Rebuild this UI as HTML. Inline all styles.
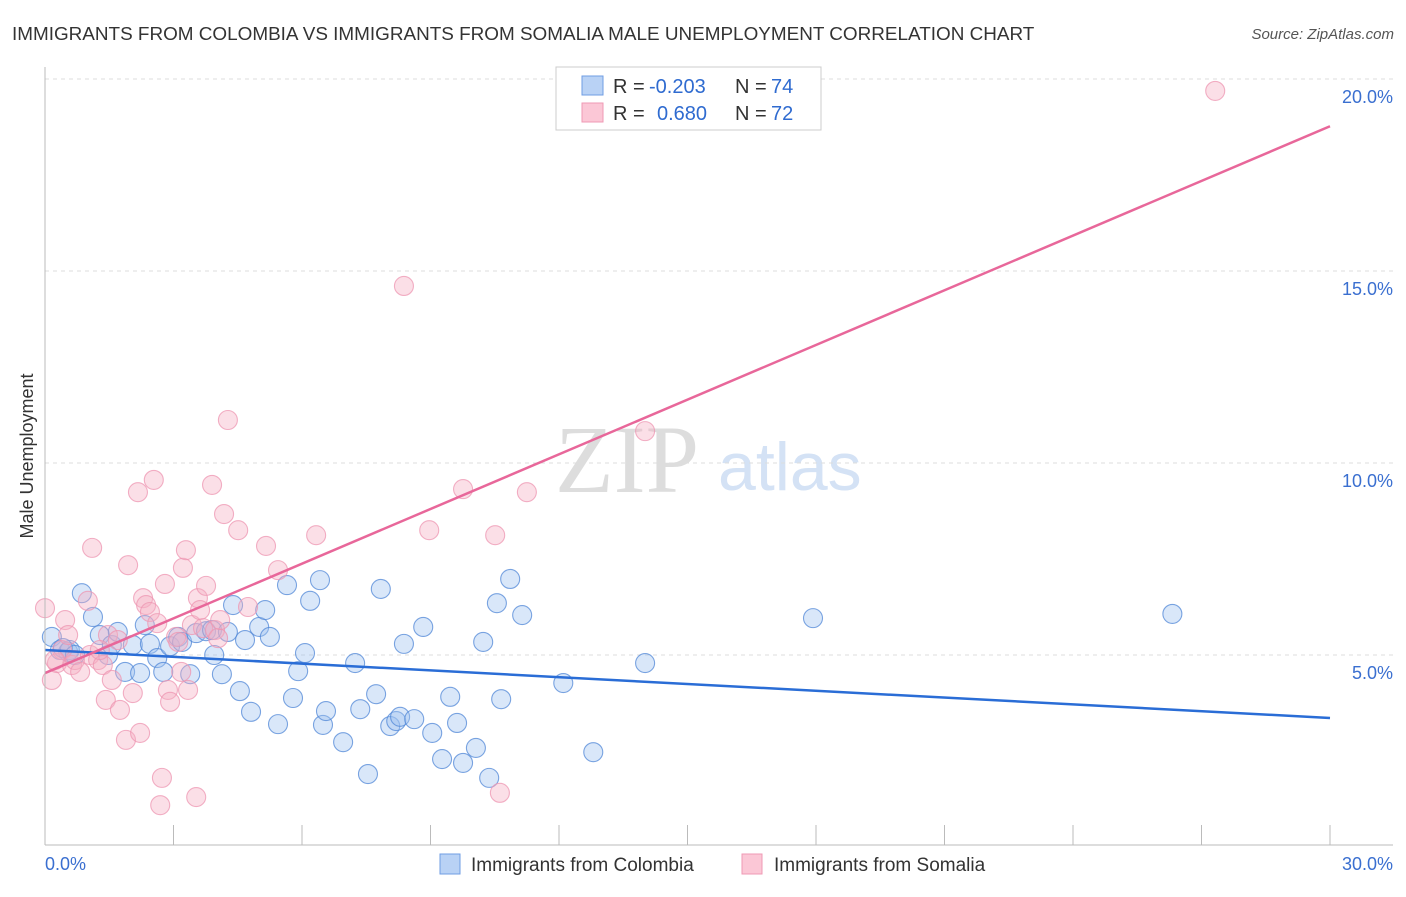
<!DOCTYPE html>
<html><head><meta charset="utf-8"><style>
body{margin:0;background:#fff;font-family:"Liberation Sans",sans-serif;}
</style></head><body>
<svg id="c" width="1406" height="892" xmlns="http://www.w3.org/2000/svg">
<text x="12" y="40" font-size="18.9" fill="#333">IMMIGRANTS FROM COLOMBIA VS IMMIGRANTS FROM SOMALIA MALE UNEMPLOYMENT CORRELATION CHART</text>
<text x="1394" y="39" font-size="15" fill="#555" text-anchor="end" font-style="italic">Source: ZipAtlas.com</text>
<text x="555" y="492" font-size="96" fill="#ddd" font-family="Liberation Serif,serif">ZIP</text>
<text x="718" y="490" font-size="68" fill="#d4e2f5">atlas</text>
<text transform="translate(33,456) rotate(-90)" font-size="18" fill="#333" text-anchor="middle">Male Unemployment</text>
<g id="grid"></g><g id="pts"></g><g id="lines"></g>
<line x1="45" y1="67" x2="45" y2="845" stroke="#bbb"/>
<line x1="45" y1="845" x2="1393" y2="845" stroke="#bbb"/>
<text x="45" y="870" font-size="18" fill="#3a6fd0">0.0%</text>
<text x="1393" y="870" font-size="18" fill="#3a6fd0" text-anchor="end">30.0%</text>
<g font-size="20">
<rect x="556" y="67" width="265" height="63" fill="#fff" stroke="#ccc"/>
<rect x="582" y="76" width="21" height="19" fill="#b9d2f5" stroke="#6f9de3"/>
<rect x="582" y="103" width="21" height="19" fill="#fbc7d6" stroke="#ef9ab4"/>
<text x="613" y="93" fill="#333">R =</text>
<text x="649" y="93" fill="#2f6bd0">-0.203</text>
<text x="735" y="93" fill="#333">N =</text>
<text x="771" y="93" fill="#2f6bd0">74</text>
<text x="613" y="120" fill="#333">R =</text>
<text x="657" y="120" fill="#2f6bd0">0.680</text>
<text x="735" y="120" fill="#333">N =</text>
<text x="771" y="120" fill="#2f6bd0">72</text>
</g>
<g>
<rect x="440" y="854" width="20" height="20" fill="#b9d2f5" stroke="#6f9de3"/>
<text x="471" y="871" font-size="19" fill="#333">Immigrants from Colombia</text>
<rect x="742" y="854" width="20" height="20" fill="#fbc7d6" stroke="#ef9ab4"/>
<text x="774" y="871" font-size="19" fill="#333">Immigrants from Somalia</text>
</g>
</svg>
<script>
const yTicks=[5,10,15,20];
const yTickLabels=["5.0%","10.0%","15.0%","20.0%"];
const xTicks=[0,3,6,9,12,15,18,21,24,27,30];
const blueX=[0.16,0.35,0.54,0.58,0.86,1.12,1.28,1.47,1.56,1.70,1.87,2.05,2.22,2.33,2.45,2.62,2.76,2.92,3.11,3.20,3.39,3.53,3.76,3.90,3.95,4.13,4.27,4.39,4.55,4.67,4.81,5.00,5.14,5.25,5.44,5.65,5.79,5.91,6.07,6.19,6.42,6.49,6.56,6.96,7.24,7.36,7.54,7.73,7.84,8.06,8.20,8.29,8.38,8.62,8.83,9.04,9.27,9.46,9.62,9.76,10.06,10.23,10.37,10.55,10.65,10.86,11.14,12.10,12.80,14.01,17.93,26.32,0.42,0.70];
const blueY=[5.47,5.13,5.08,5.13,6.61,5.99,5.52,5.00,5.26,5.60,4.56,5.26,4.53,5.78,5.29,4.92,4.56,5.23,5.47,5.34,4.50,5.57,5.62,5.65,5.00,4.50,5.60,6.30,4.06,5.39,3.52,5.73,6.17,5.47,3.20,6.82,3.88,4.58,5.05,6.41,6.95,3.18,3.54,2.73,4.79,3.59,1.90,3.98,6.72,3.15,3.28,3.39,5.29,3.33,5.73,2.97,2.29,3.91,3.23,2.19,2.58,5.34,1.80,6.35,3.85,6.98,6.04,4.27,2.47,4.79,5.96,6.07,5.18,5.00];
const pinkX=[0,0.16,0.28,0.40,0.47,0.54,0.63,0.70,0.82,1.00,1.05,1.10,1.24,1.35,1.42,1.47,1.56,1.70,1.75,1.89,1.94,2.05,2.17,2.22,2.29,2.36,2.45,2.54,2.62,2.69,2.73,2.80,2.87,2.92,3.06,3.11,3.18,3.22,3.29,3.34,3.43,3.53,3.57,3.62,3.69,3.76,3.90,3.97,4.04,4.09,4.18,4.27,4.51,4.74,5.16,5.44,6.33,8.38,8.97,9.76,10.51,10.62,11.25,14.01,27.32,0.23,1.28];
const pinkY=[6.22,4.35,4.79,5.13,5.91,5.52,4.74,4.87,4.56,6.41,5.00,7.79,4.87,4.74,3.83,5.52,4.35,5.39,3.57,2.79,7.34,4.01,9.24,2.97,6.48,6.30,6.12,9.56,5.83,1.09,1.80,6.85,4.09,3.78,5.47,5.34,4.56,7.27,7.73,4.09,5.78,1.30,6.48,6.17,5.70,6.80,9.43,5.65,5.44,5.91,8.67,11.12,8.25,6.25,7.84,7.21,8.12,14.61,8.25,9.32,8.12,1.41,9.24,10.83,19.69,4.87,5.13];
const blueTrend=[5.13,3.36];
const pinkTrend=[4.53,18.77];
const trendX=[0,30];
const NS="http://www.w3.org/2000/svg";
const sx=v=>45+v/30*1285, sy=v=>847-v/5*192;
function mk(t,a,p){const e=document.createElementNS(NS,t);for(const k in a)e.setAttribute(k,a[k]);p.appendChild(e);return e;}
const g=document.getElementById('grid');
yTicks.forEach((t,i)=>{
 const l=mk('line',{x1:45,x2:1393,y1:sy(t),y2:sy(t),stroke:'#ddd','stroke-dasharray':'4,4'},g);
 
 
 const tx=mk('text',{x:1393,y:sy(t)+24,'font-size':18,fill:'#3a6fd0','text-anchor':'end'},g);
 tx.textContent=yTickLabels[i];
 
 
});
xTicks.forEach(t=>{
 const l=mk('line',{x1:sx(t),x2:sx(t),y1:825,y2:845,stroke:'#bbb'},g);
 
 
});
const p=document.getElementById('pts');
blueX.forEach((x,i)=>{
 const c=mk('circle',{cx:sx(x),cy:sy(blueY[i]),r:9.5,fill:'rgba(160,195,240,0.4)',stroke:'rgba(80,135,215,0.75)','stroke-width':1.1},p);
 
 
});
pinkX.forEach((x,i)=>{
 const c=mk('circle',{cx:sx(x),cy:sy(pinkY[i]),r:9.5,fill:'rgba(246,175,196,0.4)',stroke:'rgba(238,150,178,0.75)','stroke-width':1.1},p);
 
 
});
const L=document.getElementById('lines');
const bl=mk('line',{x1:sx(trendX[0]),y1:sy(blueTrend[0]),x2:sx(trendX[1]),y2:sy(blueTrend[1]),stroke:'#2a6dd6','stroke-width':2.5},L);


const pl=mk('line',{x1:sx(trendX[0]),y1:sy(pinkTrend[0]),x2:sx(trendX[1]),y2:sy(pinkTrend[1]),stroke:'#e8679a','stroke-width':2.5},L);


</script>
</body></html>
